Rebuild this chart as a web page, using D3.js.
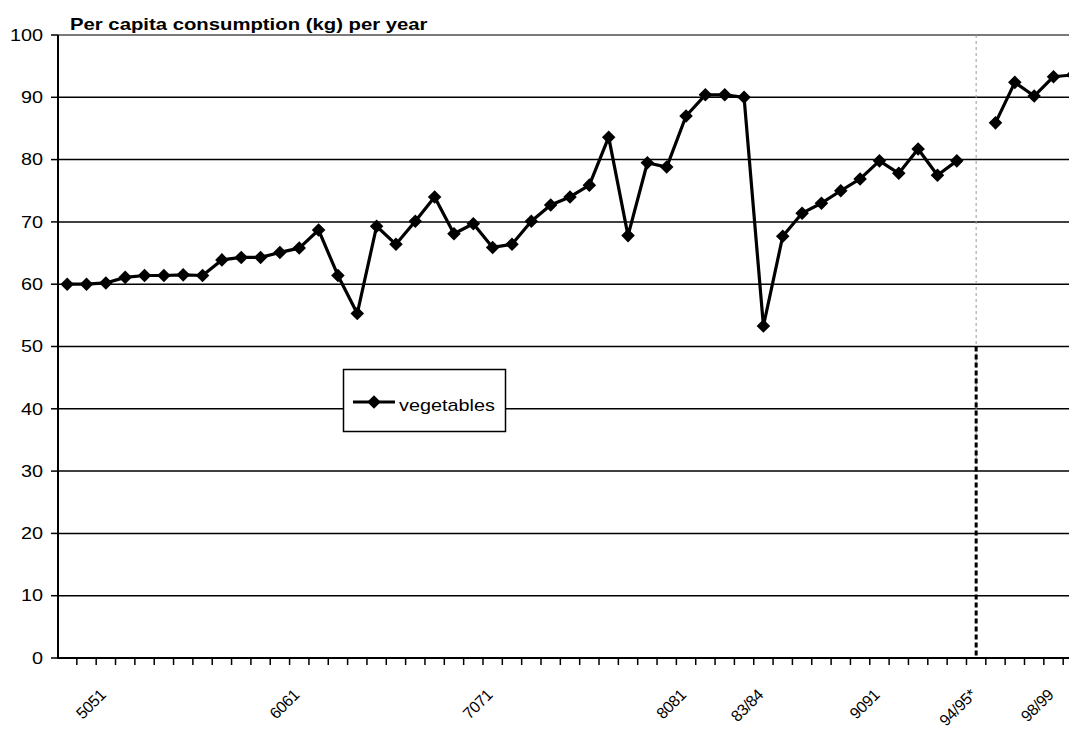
<!DOCTYPE html>
<html>
<head>
<meta charset="utf-8">
<script src="https://cdn.jsdelivr.net/npm/d3@7"></script>
<style>
  body { margin: 0; background: #fff; }
  svg { display: block; }
  text { font-family: "Liberation Sans", Arial, sans-serif; fill: #000; }
</style>
</head>
<body>
<svg id="chart" width="1069" height="729"></svg>
<script>
// Category axis labels: only some seasons carry a label
const tickLabels = [
  "", "", "5051", "", "", "", "", "", "", "",
  "", "", "6061", "", "", "", "", "", "", "",
  "", "", "7071", "", "", "", "", "", "", "",
  "", "", "8081", "", "", "", "83/84", "", "", "",
  "", "", "9091", "", "", "", "", "94/95*", "", "",
  "", "98/99", ""
];

// Per capita vegetable consumption (kg per year); null = no figure (series break)
const vegetables = [
  60.0, 60.0, 60.2, 61.1, 61.4, 61.4, 61.5, 61.4, 63.9, 64.3,
  64.3, 65.1, 65.8, 68.7, 61.4, 55.3, 69.3, 66.4, 70.1, 74.0,
  68.1, 69.7, 65.9, 66.4, 70.1, 72.7, 74.0, 75.9, 83.6, 67.8,
  79.5, 78.8, 87.0, 90.4, 90.4, 90.0, 53.3, 67.7, 71.4, 73.0,
  75.0, 76.9, 79.8, 77.8, 81.7, 77.5, 79.8, null, 85.9, 92.4,
  90.2, 93.3, 93.6
];

const yTicks = [0, 10, 20, 30, 40, 50, 60, 70, 80, 90, 100];
const breakIndex = 47;
const seriesName = "vegetables";
const title = "Per capita consumption (kg) per year";

const svg = d3.select("#chart");
const left = 57.5, band = 19.34;
const x = d3.scaleBand()
  .domain(d3.range(tickLabels.length))
  .range([left, left + band * tickLabels.length]);
const y = d3.scaleLinear().domain([0, 100]).range([658, 35]);
const cx = i => x(i) + x.bandwidth() / 2;
const xEnd = left + band * tickLabels.length;
const SX = 1.24; // horizontal stretch of the chart lettering

// Horizontal gridlines
svg.append("g").selectAll("line")
  .data(yTicks.filter(v => v > 0))
  .join("line")
  .attr("x1", left).attr("x2", xEnd)
  .attr("y1", d => y(d)).attr("y2", d => y(d))
  .attr("stroke", d => d === 100 ? "#7a7a7a" : "#000")
  .attr("stroke-width", d => d === 100 ? 2 : 1.5);

// Break marker: thin grey dashed guide plus heavy dotted stub
svg.append("line")
  .attr("x1", cx(breakIndex)).attr("x2", cx(breakIndex))
  .attr("y1", y(100)).attr("y2", y(30))
  .attr("stroke", "#9a9a9a").attr("stroke-width", 1)
  .attr("stroke-dasharray", "3,3");
svg.append("line")
  .attr("x1", cx(breakIndex)).attr("x2", cx(breakIndex))
  .attr("y1", y(50)).attr("y2", y(0))
  .attr("stroke", "#000").attr("stroke-width", 3)
  .attr("stroke-dasharray", "5,3");

// Y axis
const yAxis = svg.append("g");
yAxis.append("line")
  .attr("x1", 58).attr("x2", 58).attr("y1", y(100)).attr("y2", y(0) + 1)
  .attr("stroke", "#000").attr("stroke-width", 2);
yAxis.selectAll("line.tick").data(yTicks).join("line")
  .attr("class", "tick")
  .attr("x1", 51).attr("x2", 58)
  .attr("y1", d => y(d)).attr("y2", d => y(d))
  .attr("stroke", "#000").attr("stroke-width", 1.5);
yAxis.selectAll("text").data(yTicks).join("text")
  .attr("transform", d => `translate(43,${y(d)}) scale(${SX},1)`)
  .attr("text-anchor", "end")
  .attr("dy", "0.36em")
  .style("font-size", "16px")
  .text(d => d);

// X axis
const xAxis = svg.append("g");
xAxis.append("line")
  .attr("x1", 57).attr("x2", xEnd).attr("y1", y(0)).attr("y2", y(0))
  .attr("stroke", "#000").attr("stroke-width", 2);
xAxis.selectAll("line.tick").data(d3.range(1, tickLabels.length + 1)).join("line")
  .attr("class", "tick")
  .attr("x1", i => left + band * i).attr("x2", i => left + band * i)
  .attr("y1", y(0)).attr("y2", y(0) + 7)
  .attr("stroke", "#000").attr("stroke-width", 1.5);
xAxis.selectAll("text")
  .data(tickLabels.map((t, i) => ({ t, i })).filter(d => d.t))
  .join("text")
  .attr("transform", d => `translate(${cx(d.i) - 3},692) rotate(-45)`)
  .attr("text-anchor", "end")
  .attr("dy", "0.35em")
  .attr("letter-spacing", "-0.4")
  .style("font-size", "16px")
  .text(d => d.t);

// Series line and diamond markers
const line = d3.line()
  .defined(d => d != null)
  .x((d, i) => cx(i))
  .y(d => y(d));
svg.append("path")
  .datum(vegetables)
  .attr("d", line)
  .attr("fill", "none")
  .attr("stroke", "#000")
  .attr("stroke-width", 3.2)
  .attr("stroke-linejoin", "round");

const diamond = d3.symbol().type(d3.symbolSquare).size(92);
svg.append("g").selectAll("path")
  .data(vegetables.map((v, i) => ({ v, i })).filter(d => d.v != null))
  .join("path")
  .attr("transform", d => `translate(${cx(d.i)},${y(d.v)}) rotate(45)`)
  .attr("d", diamond)
  .attr("fill", "#000");

// Title
svg.append("text")
  .attr("transform", "translate(70,30) scale(1.27,1)")
  .style("font-size", "16px")
  .style("font-weight", "bold")
  .text(title);

// Legend
const lg = svg.append("g");
lg.append("rect")
  .attr("x", 343.5).attr("y", 369.5).attr("width", 162).attr("height", 62)
  .attr("fill", "#fff").attr("stroke", "#000").attr("stroke-width", 1.5);
lg.append("line")
  .attr("x1", 353).attr("x2", 395).attr("y1", 402).attr("y2", 402)
  .attr("stroke", "#000").attr("stroke-width", 3);
lg.append("path")
  .attr("transform", "translate(374,402) rotate(45)")
  .attr("d", diamond)
  .attr("fill", "#000");
lg.append("text")
  .attr("transform", `translate(399,411) scale(${SX},1)`)
  .style("font-size", "16px")
  .text(seriesName);
</script>
</body>
</html>
